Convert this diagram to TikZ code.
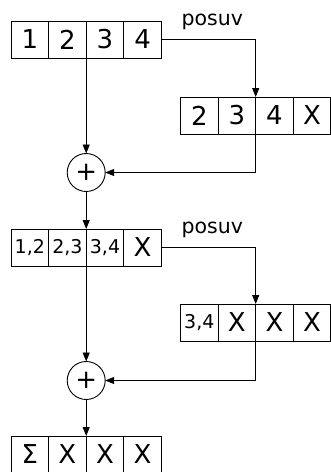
\documentclass[tikz,border=0pt]{standalone}
\usepackage{fontspec}
\setmainfont{DejaVu Sans}
\usetikzlibrary{positioning, arrows.meta}
\tikzset{
  cell/.style={draw, line width=0.9pt, minimum width=37.6pt, minimum height=37pt, inner sep=0pt, outer sep=0pt, font=\fontsize{26}{30}\selectfont},
  small/.style={cell, font=\fontsize{19}{22}\selectfont},
  adder/.style={draw, circle, line width=0.9pt, minimum size=38pt, inner sep=0pt, outer sep=0pt, font=\fontsize{26}{30}\selectfont},
  tag/.style={font=\fontsize{20.5}{24}\selectfont, inner sep=0pt, anchor=base west},
  arr/.style={-{Triangle[length=9pt, width=7pt]}, line width=0.9pt}
}
\begin{document}
\begin{tikzpicture}
\useasboundingbox (0,0) rectangle (331pt,-472pt);
% first step
\node[cell] (in1) at (29.8pt,-39.5pt) {1};
\node[cell, right=0pt of in1] (in2) {2};
\node[cell, right=0pt of in2] (in3) {3};
\node[cell, right=0pt of in3] (in4) {4};
\node[tag, right=20pt of in4.north east, anchor=base west, yshift=-4pt] (shift1) {posuv};
\node[cell] (sh1) at (199.3pt,-115.5pt) {2};
\node[cell, right=0pt of sh1] (sh2) {3};
\node[cell, right=0pt of sh2] (sh3) {4};
\node[cell, right=0pt of sh3] (sh4) {X};
\node[adder, below=95.5pt of in2.south east] (plus1) {+};
\draw[arr] (in4.east) -| (sh3.north west);
\draw[arr] (in2.south east) -- (plus1.north);
\draw[arr] (sh3.south west) |- (plus1.east);
% second step
\node[small, below=171pt of in1] (mid1) {1,2};
\node[small, right=0pt of mid1] (mid2) {2,3};
\node[small, right=0pt of mid2] (mid3) {3,4};
\node[cell, right=0pt of mid3] (mid4) {X};
\node[tag, right=20pt of mid4.north east, anchor=base west, yshift=-4pt] (shift2) {posuv};
\node[small, below=170pt of sh1] (shb1) {3,4};
\node[cell, right=0pt of shb1] (shb2) {X};
\node[cell, right=0pt of shb2] (shb3) {X};
\node[cell, right=0pt of shb3] (shb4) {X};
\node[adder, below=95.5pt of mid2.south east] (plus2) {+};
\draw[arr] (plus1.south) -- (mid2.north east);
\draw[arr] (mid4.east) -| (shb3.north west);
\draw[arr] (mid2.south east) -- (plus2.north);
\draw[arr] (shb3.south west) |- (plus2.east);
% result
\node[cell, below=170pt of mid1] (out1) {Σ};
\node[cell, right=0pt of out1] (out2) {X};
\node[cell, right=0pt of out2] (out3) {X};
\node[cell, right=0pt of out3] (out4) {X};
\draw[arr] (plus2.south) -- (out2.north east);
\end{tikzpicture}
\end{document}
